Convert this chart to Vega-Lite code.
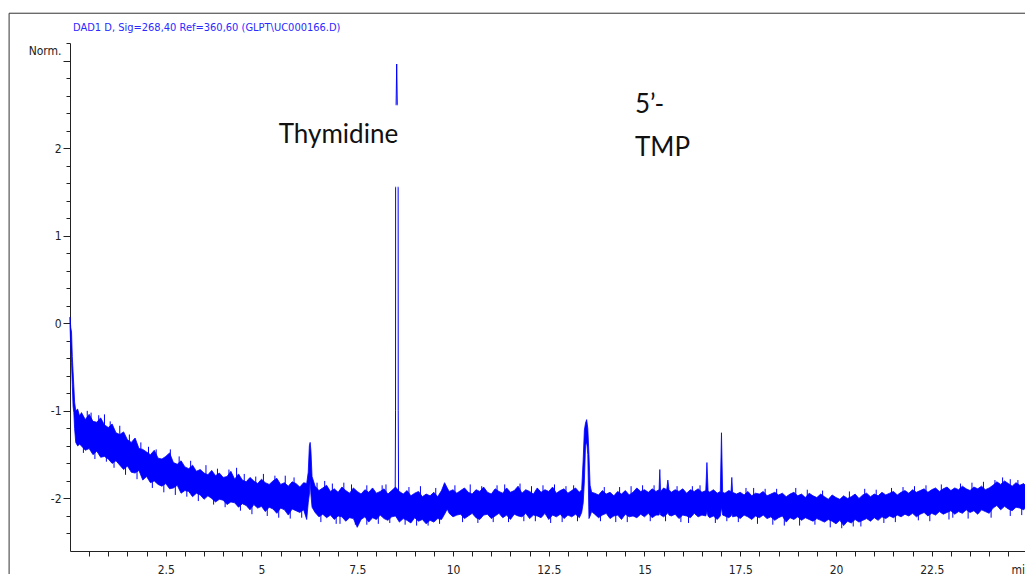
{
  "$schema": "https://vega.github.io/schema/vega-lite/v6.json",
  "autosize": "none",
  "padding": {"left": 70, "top": 43, "right": 0, "bottom": 23},
  "width": 955,
  "height": 508,
  "background": "white",
  "config": {"view": {"stroke": null}},
  "title": {
    "text": "DAD1 D, Sig=268,40 Ref=360,60 (GLPT\\UC000166.D)",
    "anchor": "start",
    "frame": "group",
    "dx": 3,
    "offset": -31,
    "baseline": "bottom",
    "fontSize": 11,
    "fontWeight": "normal",
    "color": "#2a2aff",
    "font": "Liberation Sans Narrow, DejaVu Sans Condensed, Liberation Sans, sans-serif"
  },
  "datasets": {
    "trace": [
      {"t":0,"hi":0.07,"lo":-0.03},{"t":0.02,"hi":-0.05,"lo":-0.28},{"t":0.04,"hi":-0.1,"lo":-0.45},{"t":0.06,"hi":-0.38,"lo":-0.7},{"t":0.08,"hi":-0.55,"lo":-0.95},{"t":0.1,"hi":-0.72,"lo":-1.02},{"t":0.12,"hi":-0.9,"lo":-1.2},{"t":0.15,"hi":-1.0,"lo":-1.36},{"t":0.2,"hi":-0.98,"lo":-1.4},{"t":0.25,"hi":-1.06,"lo":-1.38},
      {"t":0.3,"hi":-1.02,"lo":-1.4},{"t":0.4,"hi":-1.1,"lo":-1.45},{"t":0.5,"hi":-1.04,"lo":-1.43},{"t":0.6,"hi":-1.12,"lo":-1.5},{"t":0.7,"hi":-1.13,"lo":-1.46},{"t":0.8,"hi":-1.08,"lo":-1.53},{"t":0.9,"hi":-1.16,"lo":-1.52},
      {"t":1.0,"hi":-1.19,"lo":-1.55},{"t":1.1,"hi":-1.15,"lo":-1.6},{"t":1.2,"hi":-1.25,"lo":-1.57},{"t":1.3,"hi":-1.27,"lo":-1.62},{"t":1.4,"hi":-1.24,"lo":-1.67},{"t":1.5,"hi":-1.33,"lo":-1.63},{"t":1.6,"hi":-1.36,"lo":-1.7},{"t":1.7,"hi":-1.31,"lo":-1.71},{"t":1.8,"hi":-1.43,"lo":-1.68},{"t":1.9,"hi":-1.44,"lo":-1.79},
      {"t":2.0,"hi":-1.47,"lo":-1.75},{"t":2.1,"hi":-1.5,"lo":-1.82},{"t":2.2,"hi":-1.45,"lo":-1.8},{"t":2.3,"hi":-1.54,"lo":-1.84},{"t":2.4,"hi":-1.55,"lo":-1.86},{"t":2.5,"hi":-1.52,"lo":-1.83},{"t":2.6,"hi":-1.48,"lo":-1.89},{"t":2.7,"hi":-1.59,"lo":-1.88},{"t":2.8,"hi":-1.61,"lo":-1.85},{"t":2.9,"hi":-1.57,"lo":-1.94},
      {"t":3.0,"hi":-1.64,"lo":-1.91},{"t":3.1,"hi":-1.66,"lo":-1.92},{"t":3.2,"hi":-1.62,"lo":-1.98},{"t":3.3,"hi":-1.69,"lo":-1.94},{"t":3.4,"hi":-1.67,"lo":-1.96},{"t":3.5,"hi":-1.71,"lo":-2.01},{"t":3.6,"hi":-1.73,"lo":-1.97},{"t":3.7,"hi":-1.68,"lo":-2.0},{"t":3.8,"hi":-1.74,"lo":-2.04},{"t":3.9,"hi":-1.71,"lo":-2.01},
      {"t":4.0,"hi":-1.76,"lo":-2.02},{"t":4.1,"hi":-1.75,"lo":-2.07},{"t":4.2,"hi":-1.69,"lo":-2.04},{"t":4.3,"hi":-1.78,"lo":-2.05},{"t":4.4,"hi":-1.72,"lo":-2.1},{"t":4.5,"hi":-1.79,"lo":-2.06},{"t":4.6,"hi":-1.81,"lo":-2.08},{"t":4.7,"hi":-1.76,"lo":-2.13},{"t":4.8,"hi":-1.8,"lo":-2.07},{"t":4.9,"hi":-1.83,"lo":-2.11},
      {"t":5.0,"hi":-1.78,"lo":-2.09},{"t":5.1,"hi":-1.82,"lo":-2.15},{"t":5.2,"hi":-1.84,"lo":-2.1},{"t":5.3,"hi":-1.8,"lo":-2.12},{"t":5.4,"hi":-1.77,"lo":-2.17},{"t":5.5,"hi":-1.84,"lo":-2.11},{"t":5.6,"hi":-1.82,"lo":-2.13},{"t":5.7,"hi":-1.86,"lo":-2.19},{"t":5.8,"hi":-1.81,"lo":-2.12},{"t":5.9,"hi":-1.83,"lo":-2.14},
      {"t":6.0,"hi":-1.87,"lo":-2.16},{"t":6.1,"hi":-1.82,"lo":-2.13},{"t":6.18,"hi":-1.83,"lo":-2.24},{"t":6.22,"hi":-1.7,"lo":-2.05},{"t":6.25,"hi":-1.4,"lo":-1.95},{"t":6.27,"hi":-1.36,"lo":-1.8},{"t":6.29,"hi":-1.45,"lo":-1.95},{"t":6.32,"hi":-1.75,"lo":-2.1},{"t":6.4,"hi":-1.86,"lo":-2.16},
      {"t":6.5,"hi":-1.91,"lo":-2.21},{"t":6.6,"hi":-1.88,"lo":-2.18},{"t":6.7,"hi":-1.85,"lo":-2.22},{"t":6.8,"hi":-1.92,"lo":-2.19},{"t":6.9,"hi":-1.89,"lo":-2.24},{"t":7.0,"hi":-1.93,"lo":-2.2},{"t":7.1,"hi":-1.87,"lo":-2.21},{"t":7.2,"hi":-1.91,"lo":-2.26},{"t":7.3,"hi":-1.94,"lo":-2.22},{"t":7.4,"hi":-1.88,"lo":-2.23},
      {"t":7.5,"hi":-1.92,"lo":-2.33},{"t":7.6,"hi":-1.95,"lo":-2.24},{"t":7.7,"hi":-1.9,"lo":-2.21},{"t":7.8,"hi":-1.93,"lo":-2.27},{"t":7.9,"hi":-1.88,"lo":-2.22},{"t":8.0,"hi":-1.94,"lo":-2.24},{"t":8.1,"hi":-1.92,"lo":-2.19},{"t":8.2,"hi":-1.89,"lo":-2.23},{"t":8.3,"hi":-1.95,"lo":-2.25},{"t":8.4,"hi":-1.91,"lo":-2.21},
      {"t":8.5,"hi":-1.87,"lo":-2.2},{"t":8.6,"hi":-1.92,"lo":-2.27},{"t":8.7,"hi":-1.95,"lo":-2.23},{"t":8.8,"hi":-1.91,"lo":-2.25},{"t":8.9,"hi":-1.97,"lo":-2.28},{"t":9.0,"hi":-1.94,"lo":-2.22},{"t":9.1,"hi":-1.92,"lo":-2.26},{"t":9.2,"hi":-1.98,"lo":-2.24},{"t":9.3,"hi":-1.95,"lo":-2.29},{"t":9.4,"hi":-1.97,"lo":-2.25},
      {"t":9.5,"hi":-1.93,"lo":-2.27},{"t":9.6,"hi":-1.98,"lo":-2.23},{"t":9.7,"hi":-1.91,"lo":-2.24},{"t":9.78,"hi":-1.82,"lo":-2.18},{"t":9.85,"hi":-1.88,"lo":-2.12},{"t":9.9,"hi":-1.92,"lo":-2.17},
      {"t":10.0,"hi":-1.9,"lo":-2.21},{"t":10.1,"hi":-1.94,"lo":-2.19},{"t":10.2,"hi":-1.91,"lo":-2.18},{"t":10.3,"hi":-1.88,"lo":-2.23},{"t":10.4,"hi":-1.93,"lo":-2.2},{"t":10.5,"hi":-1.95,"lo":-2.17},{"t":10.6,"hi":-1.9,"lo":-2.22},{"t":10.7,"hi":-1.92,"lo":-2.24},{"t":10.8,"hi":-1.87,"lo":-2.19},{"t":10.9,"hi":-1.93,"lo":-2.18},
      {"t":11.0,"hi":-1.95,"lo":-2.23},{"t":11.1,"hi":-1.89,"lo":-2.2},{"t":11.2,"hi":-1.92,"lo":-2.17},{"t":11.3,"hi":-1.94,"lo":-2.22},{"t":11.4,"hi":-1.88,"lo":-2.19},{"t":11.5,"hi":-1.93,"lo":-2.24},{"t":11.6,"hi":-1.91,"lo":-2.18},{"t":11.7,"hi":-1.86,"lo":-2.2},{"t":11.8,"hi":-1.94,"lo":-2.21},{"t":11.9,"hi":-1.9,"lo":-2.17},
      {"t":12.0,"hi":-1.92,"lo":-2.23},{"t":12.1,"hi":-1.95,"lo":-2.19},{"t":12.2,"hi":-1.88,"lo":-2.2},{"t":12.3,"hi":-1.93,"lo":-2.22},{"t":12.4,"hi":-1.9,"lo":-2.17},{"t":12.5,"hi":-1.92,"lo":-2.24},{"t":12.6,"hi":-1.87,"lo":-2.19},{"t":12.7,"hi":-1.94,"lo":-2.21},{"t":12.8,"hi":-1.91,"lo":-2.18},{"t":12.9,"hi":-1.89,"lo":-2.23},
      {"t":13.0,"hi":-1.94,"lo":-2.19},{"t":13.1,"hi":-1.91,"lo":-2.21},{"t":13.2,"hi":-1.88,"lo":-2.18},{"t":13.3,"hi":-1.93,"lo":-2.22},{"t":13.36,"hi":-1.9,"lo":-2.16},{"t":13.4,"hi":-1.55,"lo":-2.05},{"t":13.43,"hi":-1.22,"lo":-1.8},{"t":13.46,"hi":-1.14,"lo":-1.4},{"t":13.49,"hi":-1.1,"lo":-1.35},{"t":13.52,"hi":-1.2,"lo":-1.5},{"t":13.55,"hi":-1.5,"lo":-2.23},{"t":13.58,"hi":-1.85,"lo":-2.2},{"t":13.62,"hi":-1.93,"lo":-2.15},
      {"t":13.7,"hi":-1.94,"lo":-2.18},{"t":13.8,"hi":-1.96,"lo":-2.22},{"t":13.9,"hi":-1.91,"lo":-2.19},{"t":14.0,"hi":-1.95,"lo":-2.17},{"t":14.1,"hi":-1.93,"lo":-2.23},{"t":14.2,"hi":-1.97,"lo":-2.2},{"t":14.3,"hi":-1.92,"lo":-2.19},{"t":14.4,"hi":-1.95,"lo":-2.24},{"t":14.5,"hi":-1.91,"lo":-2.18},{"t":14.6,"hi":-1.96,"lo":-2.21},
      {"t":14.7,"hi":-1.93,"lo":-2.2},{"t":14.8,"hi":-1.88,"lo":-2.22},{"t":14.9,"hi":-1.92,"lo":-2.18},{"t":15.0,"hi":-1.9,"lo":-2.21},{"t":15.1,"hi":-1.93,"lo":-2.17},{"t":15.2,"hi":-1.89,"lo":-2.22},{"t":15.3,"hi":-1.92,"lo":-2.19},{"t":15.38,"hi":-1.9,"lo":-2.19},{"t":15.4,"hi":-1.67,"lo":-2.15},{"t":15.42,"hi":-1.92,"lo":-2.19},
      {"t":15.5,"hi":-1.88,"lo":-2.21},{"t":15.58,"hi":-1.9,"lo":-2.18},{"t":15.61,"hi":-1.79,"lo":-2.16},{"t":15.64,"hi":-1.9,"lo":-2.19},{"t":15.7,"hi":-1.93,"lo":-2.2},{"t":15.8,"hi":-1.9,"lo":-2.18},{"t":15.9,"hi":-1.92,"lo":-2.23},{"t":16.0,"hi":-1.89,"lo":-2.19},{"t":16.1,"hi":-1.94,"lo":-2.2},{"t":16.2,"hi":-1.9,"lo":-2.22},
      {"t":16.3,"hi":-1.92,"lo":-2.17},{"t":16.4,"hi":-1.89,"lo":-2.21},{"t":16.5,"hi":-1.93,"lo":-2.19},{"t":16.6,"hi":-1.91,"lo":-2.2},{"t":16.63,"hi":-1.59,"lo":-2.15},{"t":16.66,"hi":-1.91,"lo":-2.2},{"t":16.7,"hi":-1.93,"lo":-2.22},{"t":16.8,"hi":-1.9,"lo":-2.2},{"t":16.9,"hi":-1.94,"lo":-2.24},{"t":16.98,"hi":-1.92,"lo":-2.2},
      {"t":17.01,"hi":-1.25,"lo":-2.1},{"t":17.04,"hi":-1.93,"lo":-2.19},{"t":17.1,"hi":-1.94,"lo":-2.2},{"t":17.2,"hi":-1.91,"lo":-2.22},{"t":17.26,"hi":-1.92,"lo":-2.2},{"t":17.28,"hi":-1.76,"lo":-2.17},{"t":17.3,"hi":-1.93,"lo":-2.21},{"t":17.4,"hi":-1.95,"lo":-2.2},{"t":17.5,"hi":-1.93,"lo":-2.23},{"t":17.6,"hi":-1.96,"lo":-2.19},
      {"t":17.7,"hi":-1.92,"lo":-2.21},{"t":17.8,"hi":-1.97,"lo":-2.24},{"t":17.9,"hi":-1.94,"lo":-2.2},{"t":18.0,"hi":-1.95,"lo":-2.22},{"t":18.1,"hi":-1.92,"lo":-2.19},{"t":18.2,"hi":-1.97,"lo":-2.23},{"t":18.3,"hi":-1.95,"lo":-2.21},{"t":18.4,"hi":-1.93,"lo":-2.25},{"t":18.5,"hi":-1.96,"lo":-2.22},{"t":18.6,"hi":-1.94,"lo":-2.2},
      {"t":18.7,"hi":-1.98,"lo":-2.27},{"t":18.8,"hi":-1.95,"lo":-2.22},{"t":18.9,"hi":-1.93,"lo":-2.24},{"t":19.0,"hi":-1.97,"lo":-2.21},{"t":19.1,"hi":-1.95,"lo":-2.25},{"t":19.2,"hi":-1.99,"lo":-2.22},{"t":19.3,"hi":-1.94,"lo":-2.24},{"t":19.4,"hi":-1.97,"lo":-2.26},{"t":19.5,"hi":-1.99,"lo":-2.23},{"t":19.6,"hi":-1.95,"lo":-2.25},
      {"t":19.7,"hi":-1.98,"lo":-2.27},{"t":19.8,"hi":-2.01,"lo":-2.24},{"t":19.9,"hi":-1.96,"lo":-2.26},{"t":20.0,"hi":-1.99,"lo":-2.29},{"t":20.1,"hi":-2.01,"lo":-2.25},{"t":20.2,"hi":-1.97,"lo":-2.31},{"t":20.3,"hi":-2.0,"lo":-2.26},{"t":20.4,"hi":-1.98,"lo":-2.28},{"t":20.5,"hi":-1.95,"lo":-2.24},{"t":20.6,"hi":-2.0,"lo":-2.27},
      {"t":20.7,"hi":-1.96,"lo":-2.25},{"t":20.8,"hi":-1.94,"lo":-2.23},{"t":20.9,"hi":-1.98,"lo":-2.26},{"t":21.0,"hi":-1.95,"lo":-2.22},{"t":21.1,"hi":-1.97,"lo":-2.25},{"t":21.2,"hi":-1.93,"lo":-2.21},{"t":21.3,"hi":-1.96,"lo":-2.23},{"t":21.4,"hi":-1.94,"lo":-2.2},{"t":21.5,"hi":-1.92,"lo":-2.22},{"t":21.6,"hi":-1.96,"lo":-2.19},
      {"t":21.7,"hi":-1.93,"lo":-2.21},{"t":21.8,"hi":-1.91,"lo":-2.18},{"t":21.9,"hi":-1.94,"lo":-2.2},{"t":22.0,"hi":-1.9,"lo":-2.17},{"t":22.1,"hi":-1.93,"lo":-2.21},{"t":22.2,"hi":-1.91,"lo":-2.18},{"t":22.3,"hi":-1.89,"lo":-2.16},{"t":22.4,"hi":-1.93,"lo":-2.2},{"t":22.5,"hi":-1.9,"lo":-2.17},{"t":22.6,"hi":-1.88,"lo":-2.19},
      {"t":22.7,"hi":-1.92,"lo":-2.15},{"t":22.8,"hi":-1.89,"lo":-2.18},{"t":22.9,"hi":-1.87,"lo":-2.16},{"t":23.0,"hi":-1.91,"lo":-2.14},{"t":23.1,"hi":-1.88,"lo":-2.18},{"t":23.2,"hi":-1.9,"lo":-2.15},{"t":23.3,"hi":-1.86,"lo":-2.17},{"t":23.4,"hi":-1.89,"lo":-2.13},{"t":23.5,"hi":-1.91,"lo":-2.16},{"t":23.6,"hi":-1.87,"lo":-2.14},
      {"t":23.7,"hi":-1.89,"lo":-2.18},{"t":23.8,"hi":-1.86,"lo":-2.13},{"t":23.9,"hi":-1.9,"lo":-2.15},{"t":24.0,"hi":-1.88,"lo":-2.17},{"t":24.1,"hi":-1.85,"lo":-2.11},{"t":24.2,"hi":-1.81,"lo":-2.08},{"t":24.3,"hi":-1.84,"lo":-2.13},{"t":24.4,"hi":-1.8,"lo":-2.09},{"t":24.5,"hi":-1.83,"lo":-2.12},{"t":24.6,"hi":-1.86,"lo":-2.14},
      {"t":24.7,"hi":-1.82,"lo":-2.1},{"t":24.8,"hi":-1.85,"lo":-2.11},{"t":24.9,"hi":-1.83,"lo":-2.13},{"t":24.94,"hi":-1.85,"lo":-2.11}
    ],
    "spikes": [
      {"t":0.45,"a":-1.0,"b":-1.2},{"t":0.9,"a":-1.04,"b":-1.25},{"t":1.3,"a":-1.17,"b":-1.4},{"t":2.05,"a":-1.41,"b":-1.6},{"t":2.62,"a":-1.44,"b":-1.65},{"t":3.15,"a":-1.57,"b":-1.75},{"t":4.35,"a":-1.65,"b":-1.85},{"t":5.05,"a":-1.72,"b":-1.9},{"t":5.62,"a":-1.74,"b":-1.95},
      {"t":6.65,"a":-1.8,"b":-2.0},{"t":7.15,"a":-1.82,"b":-2.0},{"t":8.25,"a":-1.84,"b":-2.0},{"t":9.15,"a":-1.86,"b":-2.05},{"t":10.45,"a":-1.84,"b":-2.0},{"t":11.15,"a":-1.85,"b":-2.0},{"t":11.75,"a":-1.83,"b":-2.0},{"t":12.35,"a":-1.85,"b":-2.0},{"t":12.95,"a":-1.86,"b":-2.0},
      {"t":14.35,"a":-1.87,"b":-2.05},{"t":14.95,"a":-1.85,"b":-2.0},{"t":16.25,"a":-1.86,"b":-2.0},{"t":17.85,"a":-1.88,"b":-2.05},{"t":18.45,"a":-1.89,"b":-2.05},{"t":19.25,"a":-1.9,"b":-2.05},{"t":20.75,"a":-1.89,"b":-2.05},{"t":21.45,"a":-1.88,"b":-2.05},{"t":22.35,"a":-1.85,"b":-2.0},{"t":23.25,"a":-1.83,"b":-2.0},{"t":24.15,"a":-1.79,"b":-1.95},{"t":24.55,"a":-1.78,"b":-1.95},
      {"t":0.35,"a":-1.48,"b":-1.3},{"t":1.15,"a":-1.65,"b":-1.45},{"t":1.75,"a":-1.78,"b":-1.6},{"t":2.45,"a":-1.93,"b":-1.75},{"t":3.35,"a":-2.03,"b":-1.85},{"t":4.05,"a":-2.1,"b":-1.9},{"t":4.75,"a":-2.18,"b":-2.0},{"t":5.45,"a":-2.22,"b":-2.0},{"t":6.05,"a":-2.22,"b":-2.0},
      {"t":6.95,"a":-2.29,"b":-2.1},{"t":7.45,"a":-2.3,"b":-2.1},{"t":8.05,"a":-2.29,"b":-2.1},{"t":8.75,"a":-2.3,"b":-2.1},{"t":9.35,"a":-2.31,"b":-2.1},{"t":10.25,"a":-2.27,"b":-2.1},{"t":11.45,"a":-2.27,"b":-2.1},{"t":12.15,"a":-2.26,"b":-2.1},{"t":12.85,"a":-2.27,"b":-2.1},
      {"t":14.25,"a":-2.27,"b":-2.1},{"t":15.15,"a":-2.26,"b":-2.1},{"t":16.15,"a":-2.28,"b":-2.1},{"t":17.45,"a":-2.27,"b":-2.1},{"t":18.65,"a":-2.31,"b":-2.1},{"t":19.45,"a":-2.3,"b":-2.1},{"t":20.15,"a":-2.34,"b":-2.15},{"t":20.45,"a":-2.32,"b":-2.15},{"t":21.25,"a":-2.28,"b":-2.1},{"t":22.15,"a":-2.25,"b":-2.1},{"t":23.05,"a":-2.22,"b":-2.05},{"t":24.55,"a":-2.2,"b":-2.0},
      {"t":0.55,"a":-1.02,"b":-1.2},{"t":0.75,"a":-1.05,"b":-1.22},{"t":1.05,"a":-1.12,"b":-1.3},{"t":1.55,"a":-1.27,"b":-1.45},{"t":1.85,"a":-1.36,"b":-1.55},{"t":2.25,"a":-1.44,"b":-1.6},{"t":2.85,"a":-1.52,"b":-1.7},{"t":3.55,"a":-1.62,"b":-1.8},{"t":3.85,"a":-1.66,"b":-1.82},{"t":4.15,"a":-1.67,"b":-1.85},{"t":4.55,"a":-1.72,"b":-1.9},{"t":4.85,"a":-1.75,"b":-1.92},{"t":5.35,"a":-1.74,"b":-1.92},{"t":5.85,"a":-1.76,"b":-1.95},
      {"t":6.45,"a":-1.82,"b":-2.0},{"t":6.85,"a":-1.83,"b":-2.0},{"t":7.35,"a":-1.84,"b":-2.0},{"t":7.75,"a":-1.85,"b":-2.0},{"t":8.15,"a":-1.85,"b":-2.0},{"t":8.85,"a":-1.87,"b":-2.05},{"t":9.55,"a":-1.88,"b":-2.05},{"t":10.05,"a":-1.85,"b":-2.0},{"t":10.75,"a":-1.86,"b":-2.0},{"t":11.35,"a":-1.84,"b":-2.0},{"t":12.05,"a":-1.86,"b":-2.0},{"t":12.65,"a":-1.84,"b":-2.0},{"t":13.15,"a":-1.85,"b":-2.0},
      {"t":13.95,"a":-1.87,"b":-2.05},{"t":14.65,"a":-1.86,"b":-2.05},{"t":15.25,"a":-1.85,"b":-2.0},{"t":15.85,"a":-1.86,"b":-2.0},{"t":16.45,"a":-1.85,"b":-2.0},{"t":17.65,"a":-1.88,"b":-2.05},{"t":18.15,"a":-1.89,"b":-2.05},{"t":18.95,"a":-1.88,"b":-2.05},{"t":19.65,"a":-1.91,"b":-2.08},{"t":20.35,"a":-1.92,"b":-2.1},{"t":21.05,"a":-1.9,"b":-2.08},{"t":21.75,"a":-1.87,"b":-2.05},{"t":22.05,"a":-1.86,"b":-2.02},{"t":22.75,"a":-1.84,"b":-2.0},{"t":23.55,"a":-1.82,"b":-2.0},{"t":23.85,"a":-1.81,"b":-1.98},{"t":24.35,"a":-1.76,"b":-1.95},{"t":24.75,"a":-1.79,"b":-1.95},
      {"t":0.65,"a":-1.55,"b":-1.35},{"t":0.95,"a":-1.58,"b":-1.4},{"t":1.45,"a":-1.73,"b":-1.55},{"t":2.15,"a":-1.88,"b":-1.7},{"t":2.75,"a":-1.96,"b":-1.78},{"t":3.05,"a":-1.98,"b":-1.8},{"t":3.75,"a":-2.07,"b":-1.9},{"t":4.45,"a":-2.14,"b":-1.95},{"t":5.15,"a":-2.2,"b":-2.0},{"t":5.75,"a":-2.23,"b":-2.05},
      {"t":6.55,"a":-2.27,"b":-2.1},{"t":7.05,"a":-2.29,"b":-2.1},{"t":7.75,"a":-2.3,"b":-2.1},{"t":8.35,"a":-2.28,"b":-2.1},{"t":9.05,"a":-2.31,"b":-2.1},{"t":9.65,"a":-2.29,"b":-2.1},{"t":10.65,"a":-2.28,"b":-2.1},{"t":11.05,"a":-2.27,"b":-2.1},{"t":11.85,"a":-2.26,"b":-2.1},{"t":12.55,"a":-2.28,"b":-2.1},{"t":13.25,"a":-2.26,"b":-2.1},
      {"t":13.85,"a":-2.26,"b":-2.1},{"t":14.55,"a":-2.27,"b":-2.1},{"t":15.55,"a":-2.26,"b":-2.1},{"t":15.95,"a":-2.27,"b":-2.1},{"t":16.85,"a":-2.28,"b":-2.1},{"t":17.15,"a":-2.26,"b":-2.1},{"t":17.95,"a":-2.29,"b":-2.1},{"t":18.35,"a":-2.3,"b":-2.1},{"t":19.05,"a":-2.31,"b":-2.12},{"t":19.85,"a":-2.33,"b":-2.15},{"t":20.65,"a":-2.32,"b":-2.15},{"t":21.55,"a":-2.27,"b":-2.1},{"t":22.45,"a":-2.26,"b":-2.1},{"t":22.95,"a":-2.24,"b":-2.05},{"t":23.45,"a":-2.23,"b":-2.05},{"t":24.05,"a":-2.22,"b":-2.05},{"t":24.85,"a":-2.19,"b":-2.0}
    ],
    "peak": [
      {"t":8.49,"v":-2.0},{"t":8.5,"v":-1.0},{"t":8.502,"v":1.55},{"t":8.515,"v":2.5},{"t":8.53,"v":2.96},{"t":8.545,"v":2.5},{"t":8.568,"v":1.55},{"t":8.57,"v":-1.0},{"t":8.58,"v":-2.1}
    ],
    "mask": [
      {"t1":5.3,"t2":8.8,"v1":2.49,"v2":1.56}
    ],
    "labels": [
      {"t":5.45,"v":2.06,"label":"Thymidine"},
      {"t":14.75,"v":2.4,"label":"5’-"},
      {"t":14.75,"v":1.91,"label":"TMP"}
    ]
  },
  "layer": [
    {
      "data": {"name": "trace"},
      "mark": {"type": "area", "color": "#0000ff", "stroke": "#0000ff", "strokeWidth": 0.8},
      "encoding": {
        "x": {
          "field": "t", "type": "quantitative",
          "scale": {"domain": [0, 24.935], "nice": false, "zero": false},
          "axis": {
            "values": [0.5,1,1.5,2,2.5,3,3.5,4,4.5,5,5.5,6,6.5,7,7.5,8,8.5,9,9.5,10,10.5,11,11.5,12,12.5,13,13.5,14,14.5,15,15.5,16,16.5,17,17.5,18,18.5,19,19.5,20,20.5,21,21.5,22,22.5,23,23.5,24,24.5],
            "tickCount": 200,
            "labelExpr": "datum.value % 2.5 == 0 ? toString(datum.value) : ''",
            "labelFont": "Liberation Sans Narrow, DejaVu Sans Condensed, Liberation Sans, sans-serif",
            "labelFontSize": 12,
            "labelColor": "#222222",
            "labelPadding": 8,
            "labelFlush": false,
            "labelOverlap": false,
            "tickSize": 5,
            "tickColor": "#222222",
            "domainColor": "#222222",
            "grid": false,
            "title": "min",
            "titleFont": "Liberation Sans Narrow, DejaVu Sans Condensed, Liberation Sans, sans-serif",
            "titleFontSize": 12,
            "titleFontWeight": "normal",
            "titleColor": "#222222",
            "titleAlign": "left",
            "titleBaseline": "top",
            "titleX": 941,
            "titleY": 13
          }
        },
        "y": {
          "field": "hi", "type": "quantitative",
          "scale": {"domain": [-2.6, 3.2], "nice": false, "zero": false},
          "axis": {
            "values": [-2.4,-2.2,-2,-1.8,-1.6,-1.4,-1.2,-1,-0.8,-0.6,-0.4,-0.2,0,0.2,0.4,0.6,0.8,1,1.2,1.4,1.6,1.8,2,2.2,2.4,2.6,2.8,3,3.2],
            "tickCount": 200,
            "labelExpr": "abs(datum.value - round(datum.value)) < 0.001 && datum.value < 2.5 ? toString(round(datum.value)) : ''",
            "labelFont": "Liberation Sans Narrow, DejaVu Sans Condensed, Liberation Sans, sans-serif",
            "labelFontSize": 12,
            "labelColor": "#222222",
            "labelPadding": 2,
            "labelOverlap": false,
            "labelBound": false,
            "tickSize": {"condition": {"test": "abs(datum.value - round(datum.value)) < 0.001", "value": 7}, "value": 4},
            "tickColor": "#222222",
            "domainColor": "#222222",
            "grid": false,
            "title": "Norm.",
            "titleAngle": 0,
            "titleAlign": "right",
            "titleBaseline": "middle",
            "titleX": -9,
            "titleY": 7,
            "titleFont": "Liberation Sans Narrow, DejaVu Sans Condensed, Liberation Sans, sans-serif",
            "titleFontSize": 12,
            "titleFontWeight": "normal",
            "titleColor": "#222222"
          }
        },
        "y2": {"field": "lo"}
      }
    },
    {
      "data": {"name": "spikes"},
      "mark": {"type": "rule", "color": "#0000ff", "strokeWidth": 1},
      "encoding": {
        "x": {"field": "t", "type": "quantitative"},
        "y": {"field": "a", "type": "quantitative"},
        "y2": {"field": "b"}
      }
    },
    {
      "data": {"name": "peak"},
      "mark": {"type": "line", "color": "#0000ff", "strokeWidth": 1},
      "encoding": {
        "x": {"field": "t", "type": "quantitative"},
        "y": {"field": "v", "type": "quantitative"}
      }
    },
    {
      "data": {"name": "mask"},
      "mark": {"type": "rect", "fill": "white", "stroke": null},
      "encoding": {
        "x": {"field": "t1", "type": "quantitative"},
        "x2": {"field": "t2"},
        "y": {"field": "v1", "type": "quantitative"},
        "y2": {"field": "v2"}
      }
    },
    {
      "data": {"name": "labels"},
      "mark": {"type": "text", "align": "left", "baseline": "alphabetic", "font": "Lato", "fontSize": 26, "color": "#111111"},
      "encoding": {
        "x": {"field": "t", "type": "quantitative"},
        "y": {"field": "v", "type": "quantitative"},
        "text": {"field": "label"}
      }
    },
    {
      "data": {"values": [{}]},
      "mark": {"type": "rule", "color": "#333333", "strokeWidth": 1},
      "encoding": {
        "x": {"datum": -1.59},
        "y": {"datum": 3.54},
        "y2": {"datum": -3.2}
      }
    },
    {
      "data": {"values": [{}]},
      "mark": {"type": "rule", "color": "#333333", "strokeWidth": 1},
      "encoding": {
        "x": {"datum": -1.59},
        "x2": {"datum": 26},
        "y": {"datum": 3.54}
      }
    }
  ]
}
